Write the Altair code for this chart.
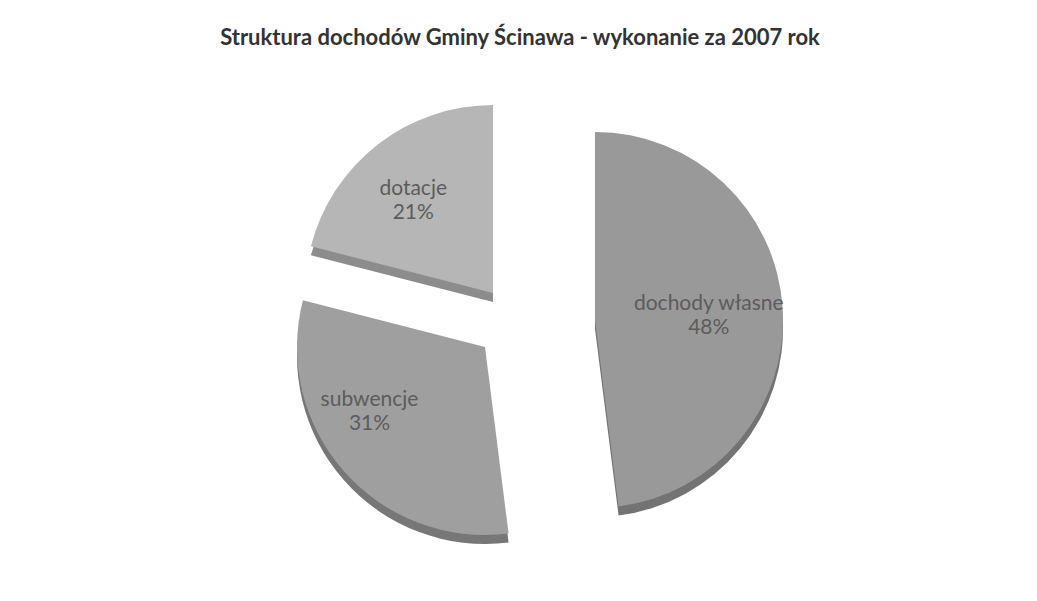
import altair as alt
import pandas as pd

categories = ["dochody własne", "subwencje", "dotacje"]
values = [48, 31, 21]
order = [1, 2, 3]
title_text = "Struktura dochodów  Gminy Ścinawa - wykonanie za 2007 rok"

df = pd.DataFrame({"category": categories, "value": values, "order": order})

W, H = 1019, 583
R = 188
FONT = "Lato"

# exploded centres (view pixels), label nudges and colours per slice
centres = {
    "dochody własne": (587, 312),
    "subwencje": (477, 339),
    "dotacje": (485, 285),
}
nudge = {"dochody własne": (-8, -8), "subwencje": (-24, -28), "dotacje": (-5, -8)}
face = {"dochody własne": "#999999", "subwencje": "#9f9f9f", "dotacje": "#b6b6b6"}
rim = {"dochody własne": "#737373", "subwencje": "#777777", "dotacje": "#8c8c8c"}

base = alt.Chart(df).transform_window(
    cum="sum(value)", sort=[alt.SortField("order")], frame=[None, 0]
).transform_calculate(
    start="datum.cum - datum.value",
    mid="datum.cum - datum.value / 2",
    label="datum.category + '\\n' + datum.value + '%'",
)

theta_scale = alt.Scale(domain=[0, 100], range=[0, 6.283185307179586])

layers = []
for cat in categories:
    cx, cy = centres[cat]
    sub = base.transform_filter(alt.datum.category == cat)
    layers.append(
        sub.mark_arc(x=cx, y=cy + 9, radius=R, color=rim[cat]).encode(
            theta=alt.Theta("start:Q", scale=theta_scale),
            theta2="cum:Q",
        )
    )
for cat in categories:
    cx, cy = centres[cat]
    sub = base.transform_filter(alt.datum.category == cat)
    layers.append(
        sub.mark_arc(x=cx, y=cy, radius=R, color=face[cat]).encode(
            theta=alt.Theta("start:Q", scale=theta_scale),
            theta2="cum:Q",
        )
    )
for cat in categories:
    cx, cy = centres[cat]
    dx, dy = nudge[cat]
    sub = base.transform_filter(alt.datum.category == cat)
    layers.append(
        sub.mark_text(
            x=cx, y=cy, dx=dx, dy=dy, radius=122, lineBreak="\n", font=FONT,
            fontSize=21, color="#5c5c5c", align="center", baseline="middle",
            lineHeight=24,
        ).encode(
            theta=alt.Theta("mid:Q", scale=theta_scale),
            text="label:N",
        )
    )

title_df = pd.DataFrame({"t": [title_text]})
title_layer = alt.Chart(title_df).mark_text(
    x=512, y=30, font=FONT, fontSize=22, fontWeight="bold", color="#333333",
    align="center", baseline="middle",
).encode(text="t:N")
layers.append(title_layer)

chart = alt.layer(*layers).properties(
    width=W, height=H, padding=0, autosize=alt.AutoSizeParams(type="none"),
    background="#ffffff",
).configure_view(stroke=None)

chart.save("out.html", embed_options={"renderer": "svg", "actions": False})
